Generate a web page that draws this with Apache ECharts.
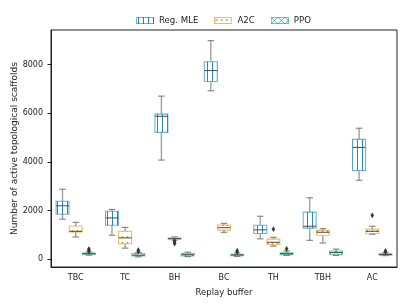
<!DOCTYPE html>
<html><head><meta charset="utf-8">
<script src="https://cdn.jsdelivr.net/npm/echarts@6/dist/echarts.min.js"></script>
<style>html,body{margin:0;padding:0;background:#fff}#c{width:407px;height:305px}</style>
</head><body><div id="c"></div>
<script>
const categories = ['TBC','TC','BH','BC','TH','TBH','AC'];
const seriesNames = ['Reg. MLE','A2C','PPO'];
// each row: [min, q1, median, q3, max]
const regMLE = [
  [1650,1855,2200,2385,2880],
  [990,1400,1700,1975,2050],
  [4080,5220,5880,5970,6710],
  [6930,7310,7760,8125,8990],
  [840,1060,1210,1400,1770],
  [780,1280,1360,1940,2530],
  [3250,3650,4600,4930,5390]
];
const a2c = [
  [917,1120,1150,1370,1520],
  [460,640,880,1150,1310],
  [790,820,850,880,920],
  [1110,1200,1300,1410,1480],
  [540,610,700,830,905],
  [670,990,1110,1190,1260],
  [1030,1060,1150,1240,1360]
];
const ppo = [
  [170,200,230,260,300],
  [100,140,170,240,280],
  [110,140,190,250,290],
  [120,150,180,210,260],
  [160,190,230,270,340],
  [160,190,280,340,420],
  [150,170,200,230,270]
];
// outliers: [categoryIndex, value]
const regMLEOutliers = [];
const a2cOutliers = [[2,760],[2,700],[2,640],[4,1240],[6,1810]];
const ppoOutliers = [[0,340],[0,380],[0,420],[1,330],[1,380],[3,300],[3,350],[4,430],[6,310],[6,340]];
const yTicks = [0,2000,4000,6000,8000];

const colors = ['#0173B2','#DE8F05','#029E73'];
const edges = ['rgba(1,115,178,0.55)','rgba(222,143,5,0.6)','rgba(2,158,115,0.55)'];
const FONT = 'DejaVu Sans';

function makePattern(hue){
  const c = document.createElement('canvas');
  const ctx = c.getContext('2d');
  const col = colors[hue];
  if(hue===0){
    c.width=5;c.height=5;
    ctx.fillStyle=col; ctx.globalAlpha=0.85; ctx.fillRect(2,0,1,5);
  } else if(hue===1){
    c.width=5;c.height=6;
    ctx.fillStyle=col; ctx.beginPath(); ctx.arc(2.5,3,0.9,0,Math.PI*2); ctx.fill();
  } else {
    c.width=7;c.height=7;
    ctx.strokeStyle=col; ctx.globalAlpha=0.8; ctx.lineWidth=0.8;
    ctx.beginPath(); ctx.moveTo(0,0); ctx.lineTo(7,7); ctx.moveTo(7,0); ctx.lineTo(0,7); ctx.stroke();
  }
  return c;
}
const patterns = [0,1,2].map(makePattern);

function legendIcon(hue){
  const c = document.createElement('canvas');
  c.width=18;c.height=7;
  const ctx=c.getContext('2d');
  ctx.fillStyle='#fff';ctx.fillRect(0,0,18,7);
  ctx.fillStyle=ctx.createPattern(patterns[hue],'repeat');
  ctx.fillRect(0,0,18,7);
  ctx.strokeStyle=edges[hue];ctx.lineWidth=1;
  ctx.strokeRect(0.5,0.5,17,6);
  return 'image://'+c.toDataURL();
}

function boxRender(hue){
  return function(params, api){
    const cat = api.value(0);
    const band = api.size([1,0])[0];
    const slot = band*0.8/3;
    const w = slot*0.98;
    const cx = api.coord([cat,0])[0] + (hue-1)*slot;
    const y = i => api.coord([cat, api.value(i)])[1];
    const yMin=y(1), yQ1=y(2), yMed=y(3), yQ3=y(4), yMax=y(5);
    const cw = w*0.5;
    const wStyle = {stroke:'#a0a0a0', lineWidth:1.4};
    const cStyle = {stroke:'#7f7f7f', lineWidth:1.1};
    return {type:'group', children:[
      {type:'line', shape:{x1:cx,y1:yQ1,x2:cx,y2:yMin}, style:wStyle},
      {type:'line', shape:{x1:cx,y1:yQ3,x2:cx,y2:yMax}, style:wStyle},
      {type:'line', shape:{x1:cx-cw/2,y1:yMin,x2:cx+cw/2,y2:yMin}, style:cStyle},
      {type:'line', shape:{x1:cx-cw/2,y1:yMax,x2:cx+cw/2,y2:yMax}, style:cStyle},
      {type:'rect', shape:{x:cx-w/2,y:yQ3,width:w,height:Math.max(yQ1-yQ3,1)},
        style:{fill:'#fff', stroke:'none'}},
      {type:'rect', shape:{x:cx-w/2,y:yQ3,width:w,height:Math.max(yQ1-yQ3,1)},
        style:{fill:{image:patterns[hue], repeat:'repeat'}, stroke:edges[hue], lineWidth:1.1}},
      {type:'line', shape:{x1:cx-w/2,y1:yMed,x2:cx+w/2,y2:yMed}, style:{stroke:'#4a4a4a', lineWidth:1}}
    ]};
  };
}
function outlierRender(hue){
  return function(params, api){
    const cat = api.value(0);
    const band = api.size([1,0])[0];
    const slot = band*0.8/3;
    const p = api.coord([cat, api.value(1)]);
    const cx = p[0] + (hue-1)*slot, cy = p[1];
    const r = 2.2;
    return {type:'polygon', shape:{points:[[cx,cy-r*1.2],[cx+r*0.7,cy],[cx,cy+r*1.2],[cx-r*0.7,cy]]},
      style:{fill:'#333', stroke:'#333', lineWidth:0.3}};
  };
}

const boxData = [regMLE, a2c, ppo];
const outData = [regMLEOutliers, a2cOutliers, ppoOutliers];
const series = [];
[0,1,2].forEach(h=>{
  series.push({
    type:'custom', name:seriesNames[h], renderItem:boxRender(h),
    itemStyle:{color:colors[h]},
    encode:{x:0, y:[1,2,3,4,5]},
    data: boxData[h].map((d,i)=>[i].concat(d)),
    z:2
  });
});
[0,1,2].forEach(h=>{
  series.push({
    type:'custom', name:seriesNames[h]+' outliers', renderItem:outlierRender(h),
    encode:{x:0, y:1},
    data: outData[h],
    z:3
  });
});

const chart = echarts.init(document.getElementById('c'));
chart.setOption({
  animation:false,
  textStyle:{fontFamily:FONT},
  legend:{
    top:11, left:131, itemWidth:18, itemHeight:7, itemGap:16,
    textStyle:{fontFamily:FONT, fontSize:8.6, color:'#222'},
    data: seriesNames.map((n,h)=>({name:n, icon:legendIcon(h)}))
  },
  grid:{left:51, right:10, top:30, bottom:38, show:true, borderColor:'#222', borderWidth:1,
    containLabel:false, outerBoundsMode:'none'},
  xAxis:{
    type:'category', data:categories, boundaryGap:true,
    name:'Replay buffer', nameLocation:'middle', nameGap:21, nameMoveOverlap:false,
    nameTextStyle:{fontFamily:FONT, fontSize:8.5, color:'#222'},
    axisLine:{onZero:false, lineStyle:{color:'#222', width:1}},
    axisTick:{alignWithLabel:true, length:3.5, lineStyle:{color:'#222'}},
    axisLabel:{fontFamily:FONT, fontSize:8, color:'#222', margin:7},
    splitLine:{show:false}
  },
  yAxis:{
    type:'value', min:-317, max:9428,
    name:'Number of active topological scaffolds', nameLocation:'middle', nameGap:32, nameMoveOverlap:false,
    nameTextStyle:{fontFamily:FONT, fontSize:9, color:'#222'},
    axisLine:{show:true, lineStyle:{color:'#222', width:1}},
    axisTick:{show:true, length:3.5, customValues:yTicks, lineStyle:{color:'#222'}},
    axisLabel:{fontFamily:FONT, fontSize:8, color:'#222', margin:8, customValues:yTicks,
      formatter: v => String(v)},
    splitLine:{show:false}
  },
  series: series
});
</script></body></html>
